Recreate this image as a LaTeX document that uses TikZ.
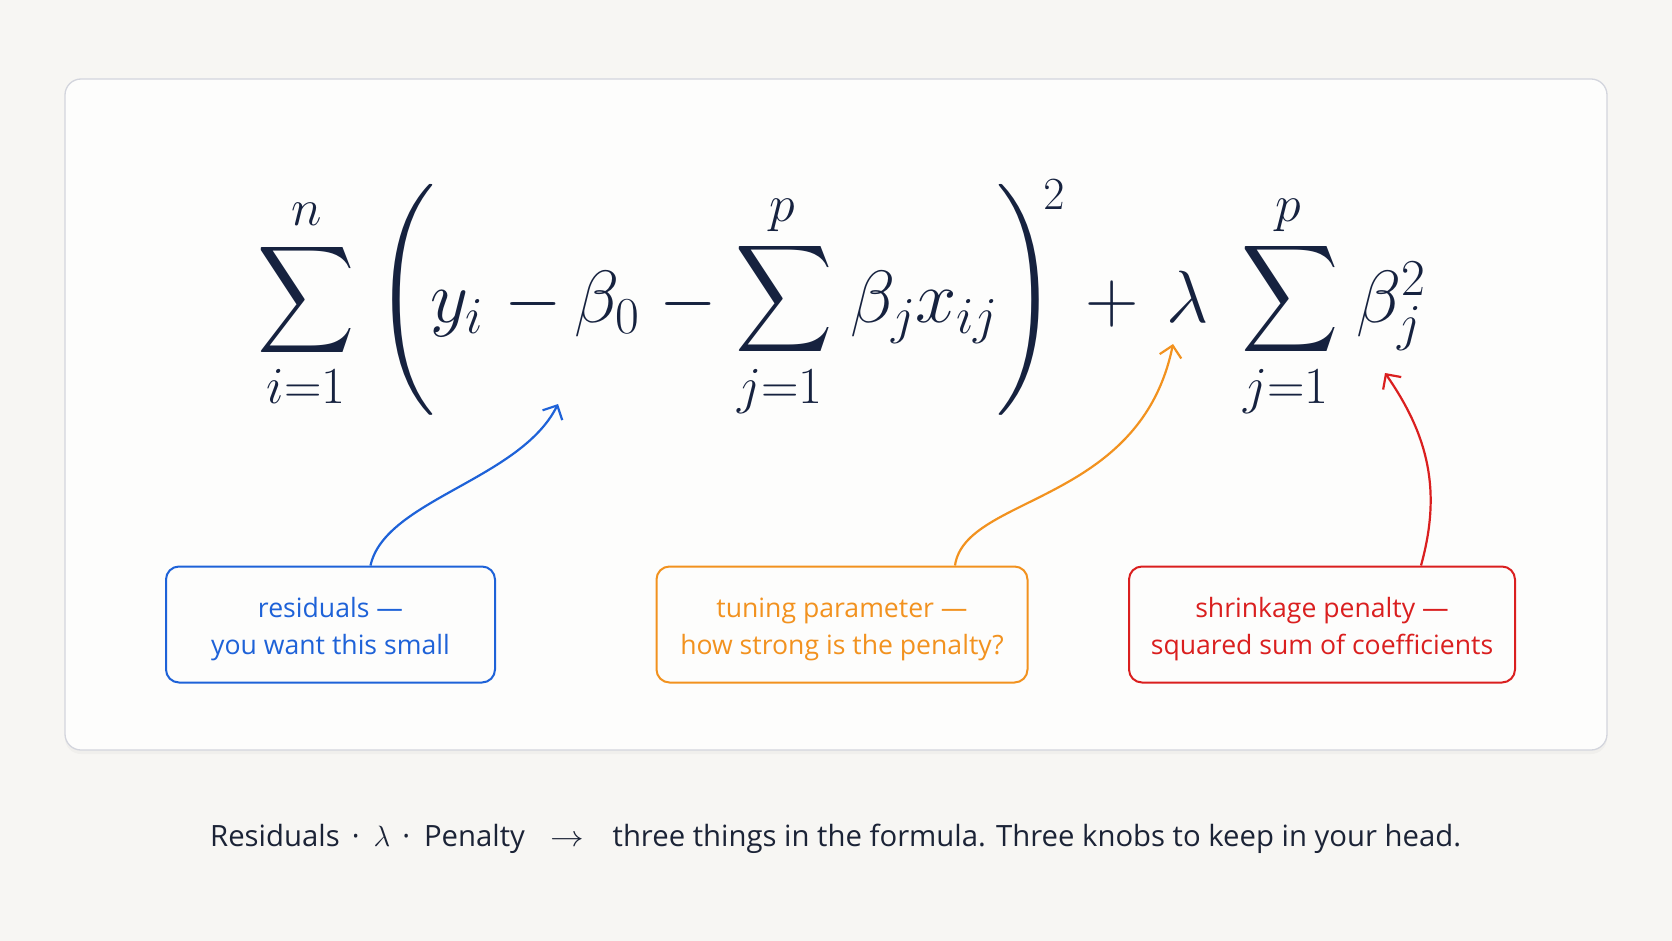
\RequirePackage{fix-cm}
\documentclass[tikz,border=0pt]{standalone}
\usepackage{amsmath}
\usepackage{graphicx}
\usepackage[no-math]{fontspec}
\newfontfamily\uifont{Open Sans}
\usetikzlibrary{arrows.meta,shadows}
\definecolor{bg}{HTML}{F7F6F3}
\definecolor{panel}{HTML}{FDFDFC}
\definecolor{panelline}{HTML}{D3D5DD}
\definecolor{ink}{HTML}{16223F}
\definecolor{capink}{HTML}{1B2336}
\definecolor{cblue}{HTML}{1E62D8}
\definecolor{corange}{HTML}{F2921F}
\definecolor{cred}{HTML}{DA1F1F}
\newcommand{\BigSigma}{\scalebox{6.75}[7.5]{$\displaystyle\sum$}}
\newcommand{\BigLParen}{\scalebox{7.7}{$\nulldelimiterspace=0pt\left(\vcenter{\hbox{\vrule height 15pt depth 15pt width 0pt}}\right.$}}
\newcommand{\BigRParen}{\scalebox{7.7}{$\nulldelimiterspace=0pt\left.\vcenter{\hbox{\vrule height 15pt depth 15pt width 0pt}}\right)$}}
\newcommand{\CalloutText}[2]{\raisebox{-4.5pt}[\height][\depth]{\parbox{#1}{\centering #2}}}
\begin{document}
\begin{tikzpicture}[x=1pt,y=-1pt,
  mathbig/.style={inner sep=0pt, text=ink, font=\fontsize{74}{80}\selectfont},
  lim/.style={inner sep=0pt, text=ink, font=\fontsize{52}{56}\selectfont},
  supsty/.style={inner sep=0pt, text=ink, font=\fontsize{46}{50}\selectfont},
  bigop/.style={inner sep=0pt, text=ink, font=\fontsize{10}{12}\selectfont},
  callout/.style={draw=#1, text=#1, line width=2pt, rounded corners=13pt, minimum height=116pt, align=center, inner sep=0pt, font=\uifont\fontsize{26.6}{37}\selectfont, fill=panel},
  link/.style={draw=#1, line width=2.2pt, -{Straight Barb[length=11pt,width=22pt]}},
]
\fill[bg] (0,0) rectangle (1672,941);
\useasboundingbox (0,0) rectangle (1672,941);
\path[fill=panel, draw=panelline, line width=1.3pt, rounded corners=16pt,
  drop shadow={opacity=0.06, shadow xshift=0pt, shadow yshift=-4pt}] (65,79) rectangle (1607,750);

% formula
\node[bigop] (sig1) at (306,300) {\BigSigma};
\node[lim, anchor=base] (n1) at (307,226) {$n$};
\node[lim, anchor=base] (i1) at (306,403) {$i{=}1$};
\node[bigop] (lp) at (404.5,300) {\BigLParen};
\node[mathbig, anchor=base west] (yi) at (430,322) {$y_i$};
\node[mathbig, anchor=base] (m1) at (533,322) {$-$};
\node[mathbig, anchor=base west] (b0) at (574,322) {$\beta_0$};
\node[mathbig, anchor=base] (m2) at (688,322) {$-$};
\node[bigop] (sig2) at (784,299) {\BigSigma};
\node[lim, anchor=base] (p2) at (782,222) {$p$};
\node[lim, anchor=base] (j2) at (780,403) {$j{=}1$};
\node[mathbig, anchor=base west] (bx) at (850,322) {$\beta_j x_{ij}$};
\node[bigop] (rp) at (1026.5,300) {\BigRParen};
\node[supsty, anchor=base] (sq) at (1054,210) {$2$};
\node[mathbig, anchor=base] (pl) at (1112,322) {$+$};
\node[mathbig, anchor=base west] (lam) at (1166,322) {$\lambda$};
\node[bigop] (sig3) at (1290,299) {\BigSigma};
\node[lim, anchor=base] (p3) at (1288,222) {$p$};
\node[lim, anchor=base] (j3) at (1286,403) {$j{=}1$};
\node[mathbig, anchor=base west] (bj) at (1356,322) {$\beta_j^2$};

% arrow targets
\coordinate (tipA) at (558,404);
\coordinate (tipB) at (1173,344);
\coordinate (tipC) at (1385,373);

% callouts
\node[callout=cblue, minimum width=329pt] (cb) at (330.5,624.5) {\CalloutText{320pt}{residuals —\\you want this small}};
\node[callout=corange, minimum width=371pt] (co) at (842,624.5) {\CalloutText{360pt}{tuning parameter —\\how strong is the penalty?}};
\node[callout=cred, minimum width=386pt] (cr) at (1322,624.5) {\CalloutText{380pt}{shrinkage penalty —\\squared sum of coefficients}};

\draw[link=cblue] ([xshift=40pt]cb.north) .. controls (385,500) and (520,480) .. (tipA);
\draw[link=corange] ([xshift=113pt]co.north) .. controls (965,495) and (1140,505) .. (tipB);
\draw[link=cred] ([xshift=99pt]cr.north) .. controls (1442,490) and (1428,435) .. (tipC);

% caption
\node[anchor=base west, inner sep=0pt, text=capink, font=\uifont\fontsize{29.3}{36}\selectfont] (cap) at (210,846)
  {Residuals\hspace{12pt}·\hspace{14pt}$\lambda$\hspace{12pt}·\hspace{14pt}Penalty\hspace{26pt}\scalebox{1.15}[1]{$\rightarrow$}\hspace{28pt}three things in the formula. Three knobs to keep in your head.};
\end{tikzpicture}
\end{document}
